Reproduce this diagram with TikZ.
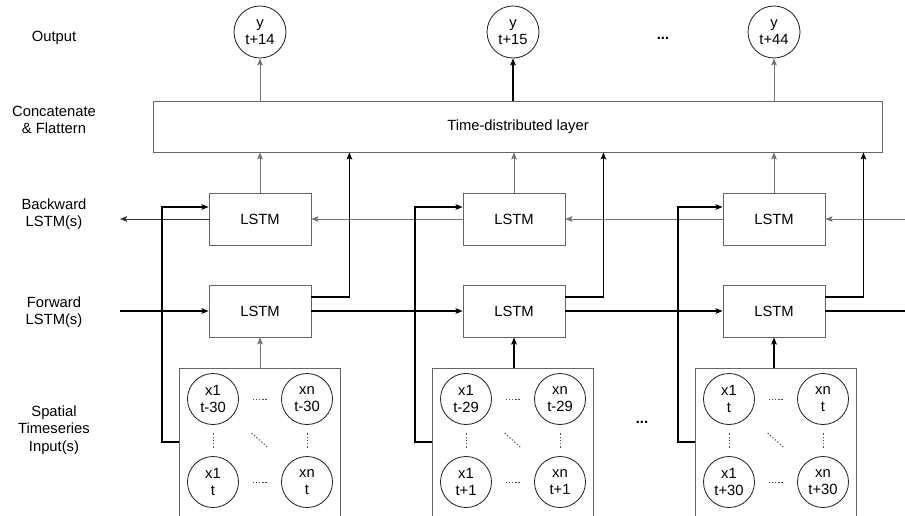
\documentclass[tikz,border=0pt]{standalone}
\usepackage{fontspec}
\setmainfont{Liberation Sans}
\usetikzlibrary{arrows.meta, calc}

\begin{document}
\begin{tikzpicture}[
  x=0.025cm, y=-0.025cm,
  every node/.style={font=\fontsize{10.5}{12.5}\selectfont, align=center},
  lstm/.style={draw=black!60, line width=0.6pt, minimum width=2.55cm,
               minimum height=1.3cm, inner sep=0pt},
  tdbox/.style={draw=black!60, line width=0.6pt, minimum width=18.2cm,
                minimum height=1.275cm, inner sep=0pt},
  outnode/.style={circle, draw=black!85, line width=0.6pt, minimum size=1.3cm, inner sep=0pt},
  xnode/.style={circle, draw=black!85, line width=0.6pt, minimum size=1.275cm, inner sep=0pt},
  inbox/.style={draw=black!60, line width=0.6pt, minimum width=4.025cm, minimum height=4.1cm},
  tip/.style={-{Stealth[length=5pt,width=4pt,inset=1pt]}},
  thinline/.style={tip, draw=black!55, line width=0.5pt},
  boldline/.style={tip, draw=black, line width=0.9pt},
  dots/.style={draw=black!70, line width=0.7pt, dash pattern=on 0.9pt off 1.4pt},
]
  \clip (0,0) rectangle (905,515);

  % row titles
  \node (lblout) at (54,38) {Output};
  \node (lblcat) at (54,120) {Concatenate\\\& Flattern};
  \node (lblbw) at (54,214) {Backward\\LSTM(s)};
  \node (lblfw) at (54,312) {Forward\\LSTM(s)};
  \node (lblin) at (54,430) {Spatial\\Timeseries\\Input(s)};

  \node[tdbox] (tdl) at (518,126.5) {Time-distributed layer};

  \node[outnode] (out1) at (260,32) {y\\t+14};
  \node[outnode] (out2) at (513,32) {y\\t+15};
  \node[outnode] (out3) at (774,32) {y\\t+44};
  \node (gapout) at (663,38) {\textbf{...}};
  \node (gapin) at (642,422) {\textbf{...}};

  \foreach \i/\xl/\xi in {1/260/260, 2/514/513, 3/774/776} {
    \node[lstm] (bw\i) at (\xl,219) {LSTM};
    \node[lstm] (fw\i) at (\xl,311) {LSTM};
    \node[inbox] (in\i) at (\xi,450) {};
  }

  % grid of input series inside each box
  \foreach \i/\ta/\tb in {1/t-30/t, 2/t-29/t+1, 3/t/t+30} {
    \node[xnode] (tl\i) at ($(in\i.center)+(-47,-51)$) {x1\\\ta};
    \node[xnode] (tr\i) at ($(in\i.center)+(47,-51)$) {xn\\\ta};
    \node[xnode] (bl\i) at ($(in\i.center)+(-47,32)$) {x1\\\tb};
    \node[xnode] (br\i) at ($(in\i.center)+(47,32)$) {xn\\\tb};
    \draw[dots, shorten >=3.4mm, shorten <=3.4mm] (tl\i) -- (tr\i);
    \draw[dots, shorten >=3.4mm, shorten <=3.4mm] (bl\i) -- (br\i);
    \draw[dots, shorten >=2.1mm, shorten <=2.1mm] (tl\i) -- (bl\i);
    \draw[dots, shorten >=2.1mm, shorten <=2.1mm] (tr\i) -- (br\i);
    \draw[dots, shorten >=6.4mm, shorten <=6.4mm] (tl\i) -- (br\i);
  }

  % forward chain
  \coordinate (fwin) at (120,311);
  \coordinate (fwout) at (910,311);
  \draw[boldline] (fwin) -- (fw1);
  \draw[boldline] (fw1) -- (fw2);
  \draw[boldline] (fw2) -- (fw3);
  \draw[boldline, -] (fw3) -- (fwout);

  % backward chain
  \coordinate (bwin) at (910,219);
  \coordinate (bwout) at (120,219);
  \draw[thinline] (bwin) -- (bw3);
  \draw[thinline] (bw3) -- (bw2);
  \draw[thinline] (bw2) -- (bw1);
  \draw[thinline, draw=black!80] (bw1) -- (bwout);

  \foreach \i/\up in {1/thinline, 2/boldline, 3/boldline} {
    \coordinate (r\i) at ($(fw\i.east)+(38,0)$);
    \coordinate (s\i) at ($(in\i.west)+(-17,0)$);
    \coordinate (b\i) at ([yshift=3mm]bw\i.west);
    \draw[thinline] (bw\i) -- (bw\i |- tdl.south);
    \draw[boldline] ([yshift=3.5mm]fw\i.east) -| (r\i |- tdl.south);
    \draw[boldline] ([yshift=2mm]in\i.west) -| (s\i |- b\i) -- (b\i);
    \draw[\up] (fw\i.south |- in\i.north) -- (fw\i.south);
  }

  \draw[thinline] (out1 |- tdl.north) -- (out1);
  \draw[boldline] (out2 |- tdl.north) -- (out2);
  \draw[thinline] (out3 |- tdl.north) -- (out3);
\end{tikzpicture}
\end{document}
